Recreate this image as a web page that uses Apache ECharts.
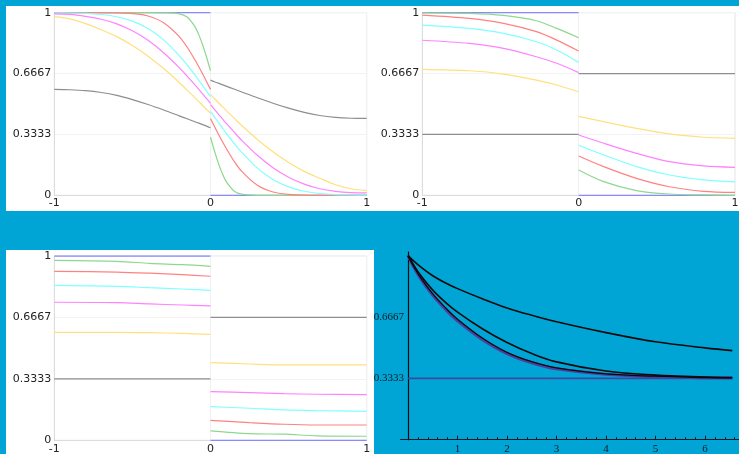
<!DOCTYPE html>
<html><head><meta charset="utf-8">
<script src="https://cdn.jsdelivr.net/npm/echarts@6/dist/echarts.min.js"></script>
<style>html,body{margin:0;padding:0;background:#00a5d6;}#c{width:739px;height:454px;}</style>
</head><body><div id="c"></div>
<script>
// ---------- tick labels ----------
const yTickVals = [0, 0.3333, 0.6667, 1];
const yTickText = ['0', '0.3333', '0.6667', '1'];
const xTickText = ['-1', '0', '1'];
const p4YTickVals = [0.3333, 0.6667];
const p4XLabels = [1, 2, 3, 4, 5, 6];

// ---------- panel 1 (top left) ----------
const p1XL = [-1, -0.9, -0.8, -0.7, -0.6, -0.5, -0.4, -0.3, -0.2, -0.15, -0.1, -0.075, -0.05, -0.025, 0];
const p1XR = [0, 0.025, 0.05, 0.075, 0.1, 0.15, 0.2, 0.3, 0.4, 0.5, 0.6, 0.7, 0.8, 0.9, 1];
const flatXL = [-1, 0];
const flatXR = [0, 1];
const p1BlueL = [1, 1];
const p1BlueR = [0, 0];
const p1GreenL = [1, 1, 1, 1, 1, 1, 1, 0.999, 0.994, 0.976, 0.924, 0.880, 0.823, 0.756, 0.682];
const p1GreenR = [0.318, 0.244, 0.177, 0.120, 0.076, 0.024, 0.006, 0, 0, 0, 0, 0, 0, 0, 0];
const p1RedL = [1, 1, 1, 1, 0.999, 0.995, 0.982, 0.945, 0.869, 0.812, 0.742, 0.704, 0.664, 0.622, 0.580];
const p1RedR = [0.420, 0.378, 0.336, 0.296, 0.258, 0.188, 0.131, 0.055, 0.018, 0.005, 0.001, 0, 0, 0, 0];
const p1CyanL = [0.999, 0.998, 0.996, 0.990, 0.978, 0.954, 0.913, 0.851, 0.765, 0.714, 0.659, 0.629, 0.600, 0.570, 0.540];
const p1CyanR = [0.460, 0.430, 0.400, 0.371, 0.341, 0.286, 0.235, 0.149, 0.087, 0.046, 0.022, 0.010, 0.004, 0.002, 0.001];
const p1MagentaL = [0.994, 0.991, 0.980, 0.964, 0.939, 0.901, 0.849, 0.781, 0.699, 0.653, 0.605, 0.580, 0.555, 0.529, 0.504];
const p1MagentaR = [0.496, 0.471, 0.445, 0.420, 0.395, 0.347, 0.301, 0.219, 0.151, 0.099, 0.061, 0.036, 0.022, 0.015, 0.013];
const p1YellowL = [0.978, 0.966, 0.940, 0.907, 0.869, 0.820, 0.762, 0.694, 0.618, 0.576, 0.535, 0.513, 0.492, 0.470, 0.449];
const p1YellowR = [0.551, 0.530, 0.508, 0.487, 0.465, 0.424, 0.382, 0.306, 0.238, 0.180, 0.131, 0.093, 0.058, 0.036, 0.026];
const p1GrayL = [0.580, 0.578, 0.573, 0.563, 0.547, 0.524, 0.497, 0.467, 0.435, 0.419, 0.403, 0.395, 0.387, 0.379, 0.370];
const p1GrayR = [0.631, 0.622, 0.614, 0.606, 0.598, 0.582, 0.566, 0.534, 0.504, 0.477, 0.454, 0.437, 0.427, 0.422, 0.421];

// ---------- panel 2 (top right) ----------
const p2XL = [-1, -0.7, -0.48, -0.27, -0.14, 0];
const p2XR = [0, 0.16, 0.37, 0.58, 0.8, 1];
const p2BlueL = [1, 1];
const p2BlueR = [0, 0];
const p2GreenL = [0.999, 0.996, 0.985, 0.956, 0.914, 0.863];
const p2GreenR = [0.139, 0.075, 0.026, 0.007, 0.002, 0.000];
const p2RedL = [0.987, 0.969, 0.942, 0.896, 0.850, 0.790];
const p2RedR = [0.215, 0.157, 0.093, 0.047, 0.022, 0.016];
const p2CyanL = [0.932, 0.914, 0.887, 0.841, 0.796, 0.728];
const p2CyanR = [0.274, 0.221, 0.157, 0.111, 0.084, 0.073];
const p2MagentaL = [0.849, 0.832, 0.805, 0.759, 0.723, 0.672];
const p2MagentaR = [0.330, 0.285, 0.230, 0.184, 0.161, 0.153];
const p2YellowL = [0.690, 0.682, 0.664, 0.631, 0.604, 0.566];
const p2YellowR = [0.432, 0.403, 0.367, 0.336, 0.318, 0.312];
const p2GrayL = [0.3333, 0.3333];
const p2GrayR = [0.6667, 0.6667];

// ---------- panel 3 (bottom left) ----------
const p3XL = [-1, -0.6, -0.39, -0.18, 0];
const p3XR = [0, 0.25, 0.47, 0.68, 1];
const p3BlueL = [1, 1];
const p3BlueR = [0, 0];
const p3GreenL = [0.976, 0.971, 0.960, 0.953, 0.944];
const p3GreenR = [0.051, 0.036, 0.033, 0.024, 0.022];
const p3RedL = [0.917, 0.913, 0.907, 0.899, 0.890];
const p3RedR = [0.108, 0.096, 0.087, 0.083, 0.083];
const p3CyanL = [0.841, 0.835, 0.828, 0.821, 0.814];
const p3CyanR = [0.183, 0.174, 0.165, 0.161, 0.157];
const p3MagentaL = [0.749, 0.747, 0.740, 0.734, 0.729];
const p3MagentaR = [0.264, 0.259, 0.253, 0.250, 0.248];
const p3YellowL = [0.586, 0.586, 0.584, 0.580, 0.575];
const p3YellowR = [0.421, 0.414, 0.409, 0.409, 0.409];
const p3GrayL = [0.3333, 0.3333];
const p3GrayR = [0.6667, 0.6667];

// ---------- panel 4 (bottom right) ----------
const p4T = [0, 0.1, 0.25, 0.5, 0.75, 1, 1.5, 2, 2.5, 3, 4, 5, 6, 6.55];
const p4Top = [1, 0.975, 0.940, 0.891, 0.853, 0.821, 0.766, 0.716, 0.676, 0.641, 0.582, 0.532, 0.499, 0.484];
const p4Middle = [1, 0.955, 0.895, 0.813, 0.748, 0.693, 0.603, 0.528, 0.468, 0.423, 0.373, 0.351, 0.341, 0.338];
const p4LowBlack = [1, 0.948, 0.882, 0.792, 0.719, 0.655, 0.553, 0.475, 0.424, 0.390, 0.358, 0.345, 0.338, 0.336];
const p4LowBlue = [1, 0.945, 0.877, 0.785, 0.711, 0.646, 0.545, 0.468, 0.418, 0.385, 0.355, 0.343, 0.337, 0.335];
const p4LineT = [0, 6.55];
const p4Line = [0.3333, 0.3333];

// ---------- styling ----------
const colBlue = '#8a8aff', colGreen = '#8ed88e', colRed = '#ff8282', colCyan = '#7fffff',
      colMagenta = '#ff82ff', colYellow = '#ffe07e', colGray = '#8e8e8e';

function pts(xs, ys) { return xs.map((x, i) => [x, ys[i]]); }
function ln(idx, xs, ys, color, w, smooth) {
  return { type: 'line', xAxisIndex: idx, yAxisIndex: idx, data: pts(xs, ys), showSymbol: false, symbol: 'none',
    smooth: smooth === undefined ? 0.3 : smooth, lineStyle: { color: color, width: w }, silent: true, z: 3 };
}
const series = [];
function panel(idx, xl, xr, d) {
  series.push(ln(idx, flatXL, d.blueL, colBlue, 1.3, false));
  series.push(ln(idx, flatXR, d.blueR, colBlue, 1.3, false));
  series.push(ln(idx, xl, d.greenL, colGreen, 1.2)); series.push(ln(idx, xr, d.greenR, colGreen, 1.2));
  series.push(ln(idx, xl, d.redL, colRed, 1.2)); series.push(ln(idx, xr, d.redR, colRed, 1.2));
  series.push(ln(idx, xl, d.cyanL, colCyan, 1.2)); series.push(ln(idx, xr, d.cyanR, colCyan, 1.2));
  series.push(ln(idx, xl, d.magentaL, colMagenta, 1.2)); series.push(ln(idx, xr, d.magentaR, colMagenta, 1.2));
  series.push(ln(idx, xl, d.yellowL, colYellow, 1.2)); series.push(ln(idx, xr, d.yellowR, colYellow, 1.2));
  if (d.grayL.length === 2) {
    series.push(ln(idx, flatXL, d.grayL, colGray, 1.3, false)); series.push(ln(idx, flatXR, d.grayR, colGray, 1.3, false));
  } else {
    series.push(ln(idx, xl, d.grayL, colGray, 1.2)); series.push(ln(idx, xr, d.grayR, colGray, 1.2));
  }
}
panel(0, p1XL, p1XR, { blueL: p1BlueL, blueR: p1BlueR, greenL: p1GreenL, greenR: p1GreenR, redL: p1RedL, redR: p1RedR,
  cyanL: p1CyanL, cyanR: p1CyanR, magentaL: p1MagentaL, magentaR: p1MagentaR, yellowL: p1YellowL, yellowR: p1YellowR, grayL: p1GrayL, grayR: p1GrayR });
panel(1, p2XL, p2XR, { blueL: p2BlueL, blueR: p2BlueR, greenL: p2GreenL, greenR: p2GreenR, redL: p2RedL, redR: p2RedR,
  cyanL: p2CyanL, cyanR: p2CyanR, magentaL: p2MagentaL, magentaR: p2MagentaR, yellowL: p2YellowL, yellowR: p2YellowR, grayL: p2GrayL, grayR: p2GrayR });
panel(2, p3XL, p3XR, { blueL: p3BlueL, blueR: p3BlueR, greenL: p3GreenL, greenR: p3GreenR, redL: p3RedL, redR: p3RedR,
  cyanL: p3CyanL, cyanR: p3CyanR, magentaL: p3MagentaL, magentaR: p3MagentaR, yellowL: p3YellowL, yellowR: p3YellowR, grayL: p3GrayL, grayR: p3GrayR });

// panel 4
series.push(ln(3, p4LineT, p4Line, '#3b4a9e', 1.6, false));
series.push(ln(3, p4T, p4LowBlue, '#4a3f9f', 3, 0.4));
series.push(ln(3, p4T, p4LowBlack, '#0a0a0a', 1.3, 0.4));
series.push(ln(3, p4T, p4Middle, '#0a0a0a', 1.6, 0.4));
series.push(ln(3, p4T, p4Top, '#0a0a0a', 1.6, 0.4));

const labelFont = { fontFamily: 'DejaVu Sans', fontSize: 11, color: '#222' };
const grids = [
  { left: 54.3, top: 12.7, width: 312.4, height: 182.6 },
  { left: 422.3, top: 12.7, width: 312.7, height: 182.6 },
  { left: 54.3, top: 256, width: 312.4, height: 184.3 },
  { left: 400.6, top: 252, width: 338.6, height: 187.7 }
].map((g, i) => Object.assign(g, { outerBoundsMode: 'none', containLabel: false,
  show: i < 3, borderColor: '#e4e4e4', borderWidth: 1, backgroundColor: 'transparent' }));

function plotX(i, margin) {
  return { type: 'value', gridIndex: i, min: -1, max: 1, interval: 1,
    axisLine: { show: true, onZero: false, lineStyle: { color: '#dcdcdc', width: 1 } },
    axisTick: { show: false },
    splitLine: { show: true, lineStyle: { color: '#f1f1f1', width: 1 } },
    axisLabel: Object.assign({ margin: margin, formatter: v => xTickText[Math.round(v) + 1] }, labelFont) };
}
function plotY(i) {
  return { type: 'value', gridIndex: i, min: 0, max: 1,
    axisLine: { show: true, onZero: false, lineStyle: { color: '#dcdcdc', width: 1 } },
    axisTick: { show: false, customValues: yTickVals },
    splitLine: { show: true, lineStyle: { color: '#f3f3f3', width: 1 } },
    axisLabel: Object.assign({ margin: 3, customValues: yTickVals,
      formatter: v => { const k = yTickVals.findIndex(t => Math.abs(t - v) < 1e-3); return k >= 0 ? yTickText[k] : ''; } }, labelFont) };
}
const minorTicks = [];
for (let k = 1; k <= 33; k++) { if (k % 5 !== 0) minorTicks.push(+(k * 0.2).toFixed(1)); }
const serif = { fontFamily: 'Liberation Serif', fontSize: 11, color: '#0d1a22' };

const option = {
  animation: false,
  backgroundColor: '#00a5d6',
  graphic: [
    { type: 'rect', shape: { x: 6, y: 6, width: 733, height: 205 }, style: { fill: '#ffffff' }, z: -10, silent: true },
    { type: 'rect', shape: { x: 6, y: 250, width: 368, height: 204 }, style: { fill: '#ffffff' }, z: -10, silent: true }
  ],
  grid: grids,
  xAxis: [
    plotX(0, 2), plotX(1, 2), plotX(2, 3),
    { type: 'value', gridIndex: 3, min: -0.15, max: 6.69, position: 'bottom',
      axisLine: { show: true, onZero: true, lineStyle: { color: '#0a1a24', width: 1.2 } },
      axisTick: { show: true, inside: true, length: 2.5, customValues: minorTicks, lineStyle: { color: '#0a1a24', width: 1 } },
      splitLine: { show: false },
      axisLabel: Object.assign({ margin: 4, customValues: p4XLabels, formatter: v => String(Math.round(v)) }, serif) },
    { type: 'value', gridIndex: 3, min: -0.15, max: 6.69, position: 'bottom',
      axisLine: { show: false, onZero: true },
      axisTick: { show: true, inside: true, length: 4, customValues: p4XLabels, lineStyle: { color: '#0a1a24', width: 1 } },
      splitLine: { show: false }, axisLabel: { show: false } }
  ],
  yAxis: [
    plotY(0), plotY(1), plotY(2),
    { type: 'value', gridIndex: 3, min: 0, max: 1.02,
      axisLine: { show: true, onZero: true, lineStyle: { color: '#0a0a0a', width: 1.2 } },
      axisTick: { show: false }, splitLine: { show: false },
      axisLabel: Object.assign({ margin: -3.4, customValues: p4YTickVals, formatter: v => v.toFixed(4) }, serif) }
  ],
  series: series
};
const chart = echarts.init(document.getElementById('c'), null, { renderer: 'canvas' });
chart.setOption(option);
</script></body></html>
